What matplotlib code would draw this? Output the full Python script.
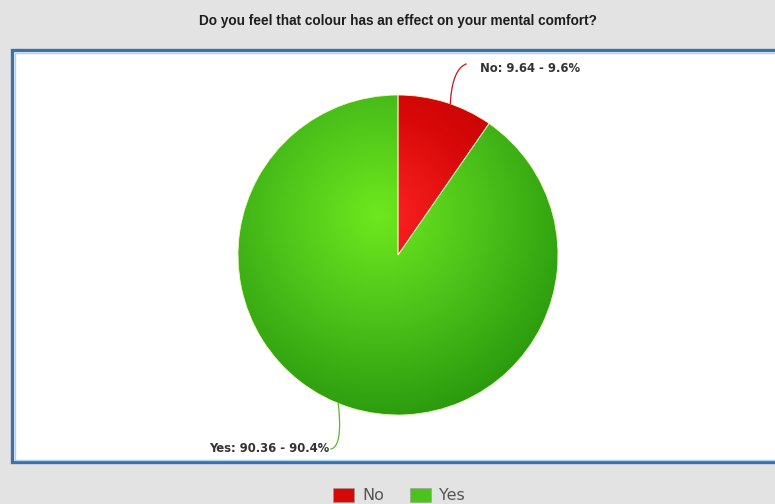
import numpy as np
import matplotlib
matplotlib.use("Agg")
import matplotlib.pyplot as plt
from matplotlib.patches import Rectangle
from matplotlib.colors import LinearSegmentedColormap

title = "Do you feel that colour has an effect on your mental comfort?"
categories = ["No", "Yes"]
values = [9.64, 90.36]
pct_labels = ["9.6%", "90.4%"]
base_colors = ["#d80808", "#4cc21a"]
light_colors = ["#ff2424", "#6ee81e"]
dark_colors = ["#bb0000", "#2a9a0e"]

plt.rcParams['font.family'] = ['Liberation Sans', 'DejaVu Sans']

W, H = 775, 504
fig = plt.figure(figsize=(W / 100, H / 100), dpi=100)
fig.patch.set_facecolor("#e3e3e3")
ax = fig.add_axes([0, 0, 1, 1])

# chart panel with blue double border
ax.add_patch(Rectangle((12, H - 462), 780, 412, facecolor="white",
                       edgecolor="#3d6fa8", lw=2.4, zorder=1))
ax.add_patch(Rectangle((14.5, H - 459.5), 780, 407, facecolor="none",
                       edgecolor="#a9d3f0", lw=1.0, zorder=1))

ax.text(398, H - 21, title, ha="center", va="center", fontsize=9.8,
        fontweight="bold", color="#1e1e1e", zorder=3)

cx, cy, r = 398, H - 255, 160
wedges, _ = ax.pie(values, startangle=90, counterclock=False,
                   center=(cx, cy), radius=r, colors=base_colors,
                   wedgeprops=dict(linewidth=0.6, edgecolor="#f4f4c0"),
                   frame=True)

# radial shading inside each slice
yy, xx = np.mgrid[cy - r:cy + r:400j, cx - r:cx + r:400j]
d = np.hypot(xx - (cx - 20), yy - (cy + 40)) / (1.3 * r)
d = np.clip(d, 0, 1)
for w, lc, bc, dc in zip(wedges, light_colors, base_colors, dark_colors):
    cmap = LinearSegmentedColormap.from_list("s", [lc, bc, dc])
    im = ax.imshow(d, extent=(cx - r, cx + r, cy - r, cy + r), origin="lower",
                   cmap=cmap, vmin=0, vmax=1, zorder=2, interpolation="bilinear")
    im.set_clip_path(w)
    w.set_zorder(2.5)
    w.set_facecolor("none")

ax.set_xlim(0, W)
ax.set_ylim(0, H)
ax.set_aspect("equal")
ax.axis("off")

# slice labels with curved leaders
total = sum(values)

def leader(angle, p1, p2, color):
    x0, y0 = cx + r * np.cos(angle), cy + r * np.sin(angle)
    t = np.linspace(0, 1, 40)
    xs = (1 - t) ** 2 * x0 + 2 * (1 - t) * t * p1[0] + t ** 2 * p2[0]
    ys = (1 - t) ** 2 * y0 + 2 * (1 - t) * t * p1[1] + t ** 2 * p2[1]
    ax.plot(xs, ys, color=color, lw=0.9, zorder=3)

ang_no = np.deg2rad(90 - 360 * values[0] / total * 0.55)
ang_yes = np.deg2rad(90 - 360 * (values[0] + values[1] * 0.5) / total) - 0.08
leader(ang_no, (452, H - 70), (466, H - 64), "#c01818")
leader(ang_yes, (343, H - 446), (331, H - 449), "#5ab830")

lab_font = dict(family="DejaVu Sans", fontsize=8.4, fontweight="bold",
                color="#333333", zorder=3)
ax.text(480, H - 68, f"{categories[0]}: {values[0]:.2f} - {pct_labels[0]}",
        ha="left", va="center", **lab_font)
ax.text(329, H - 449, f"{categories[1]}: {values[1]:.2f} - {pct_labels[1]}",
        ha="right", va="center", **lab_font)

# legend
lx = [333, 410]
for x, name, c in zip(lx, categories, base_colors):
    ax.add_patch(Rectangle((x, H - 502), 21, 14, facecolor=c,
                           edgecolor="#999999", lw=0.4, zorder=3))
    ax.text(x + 29, H - 495, name, ha="left", va="center", fontsize=11.5,
            family="DejaVu Sans", color="#555555", zorder=3)

fig.savefig("out.png", dpi=100, facecolor=fig.get_facecolor())
